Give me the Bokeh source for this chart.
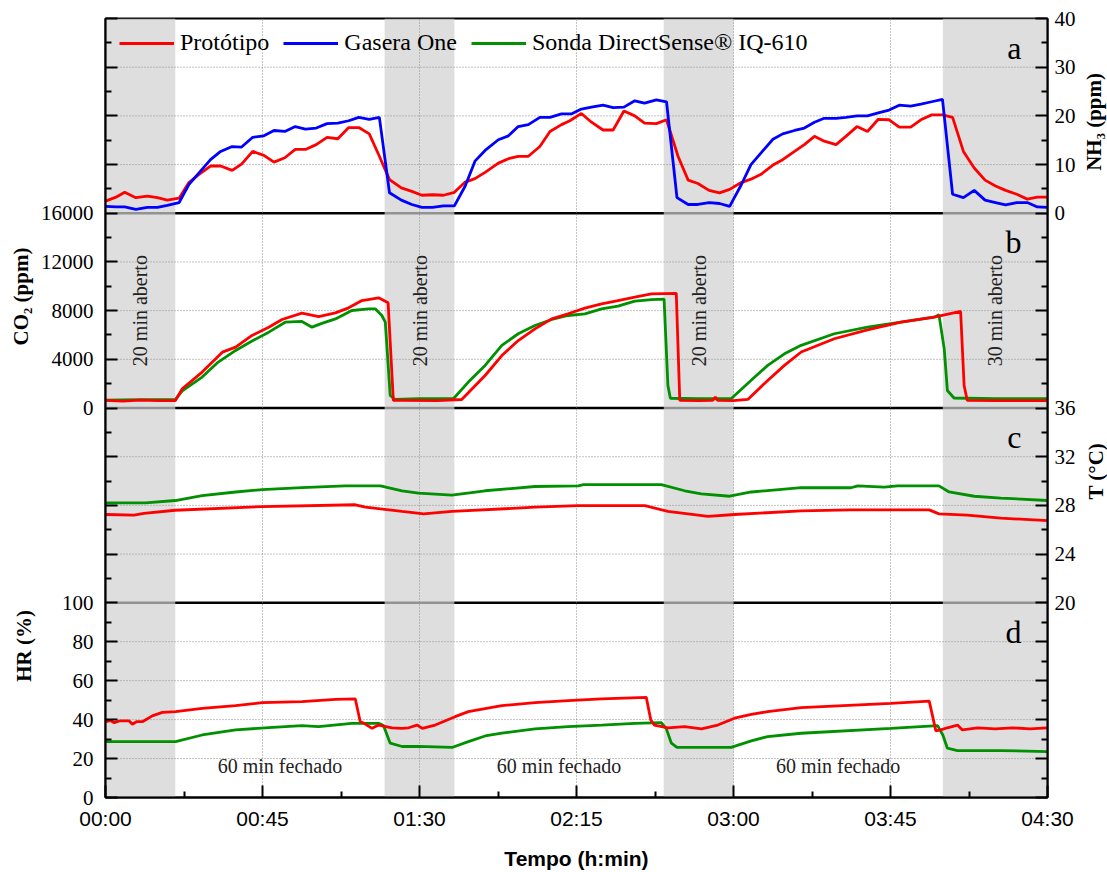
from math import pi
from bokeh.plotting import figure
from bokeh.layouts import row
from bokeh.core.properties import value
from bokeh.models import Range1d, LinearAxis, FixedTicker, Label, Legend, LegendItem
from bokeh.embed import file_html
from bokeh.resources import INLINE

# ---------------- data ----------------
# NH3 (ppm)
nh3_proto_t = [0, 3, 5.5, 8.7, 12, 14.9, 17.7, 21.1, 23.9, 26.8, 30.1, 33, 36.3, 39, 42.2, 45.4, 48.3, 51.4,
               54.4, 57.3, 60.4, 63.5, 66.6, 69.7, 72.6, 75.6, 78.5, 81.4, 84.8, 87.8, 90.7, 93.7, 96.9, 100,
               103.1, 105.9, 108.8, 112.6, 115.5, 118.3, 121.2, 124.5, 127.4, 130.7, 133.1, 136.4, 139.3,
               142.6, 145.5, 148.6, 151.7, 154.5, 157.9, 160.8, 164.1, 167, 169.8, 173, 176, 178.9, 182.2,
               185, 187.9, 191.3, 194.1, 197.5, 200.3, 203.2, 206, 209.4, 212.2, 215.4, 218.4, 221.5, 224.6,
               227.5, 230.8, 233.7, 236.8, 239.9, 242.8, 245.9, 249, 252.1, 255.1, 258, 261.2, 264.2, 267.1, 270]
nh3_proto = [2.5, 3.3, 4.3, 3.2, 3.5, 3.2, 2.7, 3.1, 6.3, 8.0, 9.7, 9.7, 8.8, 10.1, 12.7, 11.9, 10.5, 11.4,
             13.1, 13.1, 14.1, 15.6, 15.3, 17.6, 17.6, 16.3, 11.7, 6.9, 5.2, 4.5, 3.7, 3.8, 3.7, 4.3,
             6.4, 7.1, 8.4, 10.3, 11.2, 11.7, 11.7, 13.7, 16.8, 18.2, 19.0, 20.5, 18.7,
             17.1, 17.1, 21.0, 20.0, 18.5, 18.4, 19.2, 11.7, 6.8, 6.1, 4.7, 4.2, 4.9, 6.3,
             7.0, 8.0, 9.9, 11.0, 12.7, 14.1, 15.8, 14.8, 14.1, 15.8, 17.8, 16.8, 19.3, 19.2,
             17.7, 17.7, 19.2, 20.2, 20.2, 19.7, 12.7, 9.3, 6.8, 5.6, 4.7, 3.9, 2.9, 3.3, 3.3]

nh3_gas_t = [0, 3, 5.5, 8.7, 12, 14.9, 17.7, 21.1, 23.9, 26.8, 30.1, 33, 36.3, 39, 42.2, 45.4, 48.3, 51.4,
             54.4, 57.3, 60.4, 63.5, 66.6, 69.7, 72.6, 75.6, 78.5, 81.4, 84.8, 87.8, 90.7, 93.7, 96.9, 100,
             103.1, 105.9, 108.8, 112.6, 115.5, 118.3, 121.2, 124.5, 127.4, 130.7, 133.5, 136.4, 139.3,
             142.6, 145.5, 148.6, 151.7, 154.5, 157.9, 160.8, 163.8, 167, 169.8, 173, 176, 178.9, 182.2,
             185, 187.9, 191.3, 194.1, 197.5, 200.3, 203.2, 206, 209.4, 212.2, 215.4, 218.4, 221.5, 224.6,
             227.5, 230.8, 233.7, 236.8, 239.9, 242.8, 245.9, 249, 252.1, 255.1, 258, 261.2, 264.2, 267.1, 270]
nh3_gas = [1.4, 1.3, 1.3, 0.8, 1.2, 1.2, 1.6, 2.2, 5.9, 8.3, 11.0, 12.7, 13.7, 13.6, 15.6, 15.9, 17.0, 16.8,
           17.8, 17.3, 17.5, 18.4, 18.5, 19.0, 19.7, 19.3, 19.7, 4.2, 2.7, 1.8, 1.2, 1.2, 1.5, 1.5,
           5.6, 10.7, 12.9, 15.1, 15.9, 17.8, 18.2, 19.7, 19.7, 20.4, 20.4, 21.4, 21.8,
           22.2, 21.7, 21.8, 23.1, 22.6, 23.3, 22.9, 3.2, 1.8, 1.8, 2.2, 2.0, 1.4, 5.8,
           10.0, 12.4, 15.2, 16.3, 17.0, 17.5, 18.7, 19.5, 19.5, 19.7, 20.0, 20.0, 20.6, 21.2,
           22.2, 22.0, 22.4, 22.9, 23.4, 3.9, 3.2, 4.7, 2.7, 2.2, 1.7, 2.2, 2.2, 1.3, 1.2]

# CO2 (ppm)
co2_proto_t = [0, 5, 10, 15, 20, 22, 27.7, 33.5, 37.3, 42, 46.8, 50.6, 56.3, 61.1, 65.9, 69.7, 73.5, 78.3,
               81, 82.5, 85, 95, 102.1, 108.8, 113.6, 118.3, 123.1, 127.9, 132.6, 137.4, 142.2, 146.9,
               151.7, 156.5, 163.6, 164.6, 170, 174, 174.8, 175.5, 180, 184.1, 189.8, 194.6, 199.4, 208.9,
               218.4, 228, 237.5, 245.1, 246.1, 247, 255, 270]
co2_proto = [620, 560, 640, 600, 600, 1580, 2950, 4590, 5000, 5960, 6640, 7270, 7790, 7510, 7820, 8230, 8830, 9050,
             8650, 620, 620, 600, 700, 2670, 4310, 5540, 6500, 7320, 7740, 8200, 8560, 8830,
             9100, 9380, 9420, 620, 600, 620, 900, 620, 600, 700, 2260, 3500, 4600, 5690,
             6420, 7050, 7460, 7930, 1850, 620, 600, 610]

co2_sonda_t = [0, 10, 20, 22, 27.7, 32, 37.3, 42, 46.8, 51.5, 56.3, 59.2, 62, 65.9, 70.6, 75.4, 77.3, 79.2,
               80.2, 81.6, 83, 90, 99.7, 104, 108.8, 113.6, 118.3, 123.1, 127.9, 132.6, 137.4, 142.2, 146.9,
               151.7, 156.5, 160.1, 161.2, 161.9, 170, 179.3, 185, 189.8, 194.6, 199.4, 208.9, 218.4, 228,
               237.5, 238.9, 240.4, 241.3, 243.2, 255, 270]
co2_sonda = [650, 680, 680, 1400, 2540, 3700, 4730, 5500, 6230, 7050, 7110, 6640, 6950, 7320, 8010, 8150, 8150, 7600,
             7050, 1030, 700, 760, 760, 2130, 3500, 5140, 6100, 6780, 7270, 7600, 7740, 8150, 8370,
             8780, 8910, 8950, 1850, 800, 760, 760, 2260, 3500, 4450, 5150, 6100, 6640, 7050,
             7460, 7650, 4860, 1440, 820, 760, 760]

# Temperature (°C)
t_sonda_t = [0, 11.5, 20, 27.7, 37.3, 44.9, 56.3, 68.7, 78.8, 85, 89.7, 99.3, 108.8, 123.1, 135.5, 137, 159.3,
             166, 170.8, 178.9, 185.1, 199.4, 213.7, 215.6, 223.2, 227, 238.9, 241.8, 249, 256.6, 270]
t_sonda = [28.2, 28.2, 28.4, 28.8, 29.1, 29.3, 29.45, 29.6, 29.6, 29.2, 29.0, 28.85, 29.2, 29.55, 29.6, 29.7, 29.7,
           29.2, 28.95, 28.75, 29.1, 29.45, 29.45, 29.6, 29.5, 29.6, 29.6, 29.1, 28.75, 28.6, 28.4]
t_proto_t = [0, 8.2, 11, 20, 44.9, 71.6, 74.5, 85, 91.2, 99.3, 123.1, 135.5, 154.6, 161.2, 172.7, 180.3, 199.4,
             213.7, 236.1, 238.9, 247, 256.6, 270]
t_proto = [27.25, 27.2, 27.35, 27.6, 27.9, 28.05, 27.85, 27.5, 27.3, 27.5, 27.85, 27.98, 27.98, 27.5, 27.1, 27.25,
           27.55, 27.63, 27.63, 27.3, 27.2, 26.95, 26.75]

# Relative humidity (%)
hr_proto_t = [0, 1.5, 2.5, 4, 6.8, 7.7, 9, 10.7, 13.4, 16.3, 20.1, 27.7, 37.3, 44.9, 56.3, 65.9, 71.6, 73, 73.9,
              76.4, 78.3, 82.1, 85, 86.9, 89.3, 90.8, 94.5, 100.2, 104, 113.6, 123.1, 132.6, 142.2, 155, 156.3,
              157.3, 161.2, 166, 170.8, 175.5, 180.3, 185.1, 189.8, 199.4, 225.1, 236.1, 238, 239.4, 241.3,
              244.2, 245.6, 250, 255, 260, 265, 270]
hr_proto = [39.0, 39.5, 38.4, 39.3, 39.3, 37.6, 39.0, 39.0, 41.9, 43.7, 44.1, 45.8, 47.2, 48.7, 49.2, 50.4, 50.6,
            39.0, 38.3, 35.5, 37.2, 35.8, 35.5, 35.8, 37.2, 35.5, 37.2, 41.5, 44.1, 47.2, 48.7, 49.7, 50.6, 51.4,
            39.8, 37.2, 35.8, 36.4, 35.2, 37.2, 40.7, 42.7, 44.1, 46.1, 48.3, 49.5, 34.2, 34.7, 35.8,
            37.2, 34.7, 35.8, 35.2, 35.8, 35.2, 35.8]
hr_sonda_t = [0, 20.1, 27.7, 37.3, 46.8, 56.3, 61.1, 70.6, 78.3, 79.7, 81.6, 85, 89.7, 99.3, 104, 108.8, 113.6,
              123.1, 132.6, 142.2, 151.7, 159.3, 160.7, 162.2, 163.8, 179.3, 185.1, 189.8, 199.4, 225.1, 238.5,
              240, 241.3, 244.2, 256.6, 270]
hr_sonda = [28.7, 28.7, 32.1, 34.7, 35.9, 36.9, 36.4, 38.1, 38.1, 36.9, 27.9, 26.2, 26.2, 25.7, 28.7, 31.6, 33.0,
            35.2, 36.4, 37.2, 38.1, 38.4, 35.5, 27.9, 25.7, 25.7, 29.1, 31.3, 33.0, 35.5, 36.9,
            32.1, 25.3, 24.1, 24.1, 23.6]

# periods (min): door open
open_periods = [(0, 20), (80, 100), (160, 180), (240, 270)]

# ticks
x_ticks = [0, 45, 90, 135, 180, 225, 270]
x_minor = [22.5, 67.5, 112.5, 157.5, 202.5, 247.5]
x_labels = ["00:00", "00:45", "01:30", "02:15", "03:00", "03:45", "04:30"]

nh3_ticks, nh3_minor = [0, 10, 20, 30, 40], [5, 15, 25, 35]
co2_ticks, co2_minor = [0, 4000, 8000, 12000, 16000], [2000, 6000, 10000, 14000]
temp_ticks, temp_minor = [20, 24, 28, 32, 36], [22, 26, 30, 34]
hr_ticks, hr_minor = [0, 20, 40, 60, 80, 100], [10, 30, 50, 70, 90]

RED, BLUE, GREEN = "#ff0000", "#0000ff", "#009000"
SERIF, SANS = "Liberation Serif", "Liberation Sans"

# panels bottom -> top: (range name, lo, hi)
panels = [("hr", 0, 100), ("temp", 20, 36), ("co2", 0, 16000), ("nh3", 0, 40)]
pinfo = {name: (i, lo, hi) for i, (name, lo, hi) in enumerate(panels)}


def to_main(name, v):
    i, lo, hi = pinfo[name]
    return i * 100 + (v - lo) / (hi - lo) * 100


# ---------------- layout geometry (pixels) ----------------
W, H = 1107, 872
FRAME_L, FRAME_R, FRAME_T, FRAME_B = 103, 1047, 18, 800
WL, WR = 37, 28                      # side strips holding the panel titles
WM = W - WL - WR
BL = FRAME_L - WL
BR = WL + WM - FRAME_R
YMAX = 400.0
UNIT = (FRAME_B - FRAME_T) / YMAX     # px per main unit

p = figure(width=WM, height=H, x_range=Range1d(0, 270), y_range=Range1d(0, YMAX),
           output_backend="svg", toolbar_location=None,
           min_border_left=BL, min_border_right=BR, min_border_top=FRAME_T,
           min_border_bottom=H - FRAME_B)
p.xgrid.visible = False
p.ygrid.visible = False
p.outline_line_color = "black"
p.outline_line_width = 2
p.background_fill_color = "white"
p.border_fill_color = "white"

p.extra_y_ranges = {name: Range1d(lo - i * (hi - lo), lo + (4 - i) * (hi - lo))
                    for i, (name, lo, hi) in enumerate(panels)}

# panel separators (under the shading)
bounds = [to_main(name, hi) for name, lo, hi in panels[:-1]]
p.segment(x0=[0] * len(bounds), y0=bounds, x1=[270] * len(bounds), y1=bounds,
          line_color="black", line_width=2.5)

# shading of "open" periods
p.quad(left=[a for a, b in open_periods], right=[b for a, b in open_periods],
       bottom=0, top=YMAX, fill_color="#d0d0d0", fill_alpha=0.7, line_alpha=0)

# dotted grid
gx = x_ticks[1:-1]
p.segment(x0=gx, y0=[0] * len(gx), x1=gx, y1=[YMAX] * len(gx),
          line_color="#8a8a8a", line_width=1, line_dash="1 2")
gy = []
for name, ticks in [("nh3", nh3_ticks), ("co2", co2_ticks), ("temp", temp_ticks), ("hr", hr_ticks)]:
    gy += [to_main(name, v) for v in ticks[1:-1]]
p.segment(x0=[0] * len(gy), y0=gy, x1=[270] * len(gy), y1=gy,
          line_color="#8a8a8a", line_width=1, line_dash="1 2")

LW = 2.8
r_nh3_p = p.line(nh3_proto_t, nh3_proto, y_range_name="nh3", line_color=RED, line_width=LW)
r_nh3_g = p.line(nh3_gas_t, nh3_gas, y_range_name="nh3", line_color=BLUE, line_width=LW)
r_co2_s = p.line(co2_sonda_t, co2_sonda, y_range_name="co2", line_color=GREEN, line_width=LW)
r_co2_p = p.line(co2_proto_t, co2_proto, y_range_name="co2", line_color=RED, line_width=LW)
p.line(t_sonda_t, t_sonda, y_range_name="temp", line_color=GREEN, line_width=LW)
p.line(t_proto_t, t_proto, y_range_name="temp", line_color=RED, line_width=LW)
p.line(hr_sonda_t, hr_sonda, y_range_name="hr", line_color=GREEN, line_width=LW)
p.line(hr_proto_t, hr_proto, y_range_name="hr", line_color=RED, line_width=LW)

# ---------------- axes ----------------
all_major, all_minor = [], []
for name, ticks, minor in [("hr", hr_ticks, hr_minor), ("temp", temp_ticks, temp_minor),
                           ("co2", co2_ticks, co2_minor), ("nh3", nh3_ticks, nh3_minor)]:
    all_major += [to_main(name, v) for v in ticks]
    all_minor += [to_main(name, v) for v in minor]
all_major = sorted(set(int(round(v)) for v in all_major))


def overrides(labelled):
    d = {m: "" for m in all_major}
    for name, ticks in labelled:
        for v in ticks:
            d[int(round(to_main(name, v)))] = str(v)
    return d


def style_axis(ax, standoff):
    ax.axis_line_color = "black"
    ax.axis_line_width = 2
    ax.major_tick_in = 12
    ax.major_tick_out = 0
    ax.minor_tick_in = 6
    ax.minor_tick_out = 0
    ax.major_tick_line_width = 2
    ax.minor_tick_line_width = 2
    ax.major_tick_line_color = "black"
    ax.minor_tick_line_color = "black"
    ax.major_label_standoff = standoff
    ax.major_label_text_color = "black"


left = p.yaxis[0]
left.ticker = FixedTicker(ticks=all_major, minor_ticks=all_minor)
left.major_label_overrides = overrides([("hr", hr_ticks), ("co2", co2_ticks)])
style_axis(left, 12)
left.major_label_text_font = SERIF
left.major_label_text_font_size = "21px"

right = LinearAxis(ticker=FixedTicker(ticks=all_major, minor_ticks=all_minor))
right.major_label_overrides = overrides([("temp", temp_ticks), ("nh3", nh3_ticks)])
style_axis(right, 7)
right.major_label_text_font = SERIF
right.major_label_text_font_size = "21px"
p.add_layout(right, "right")

bottom = p.xaxis[0]
bottom.ticker = FixedTicker(ticks=x_ticks, minor_ticks=x_minor)
bottom.major_label_overrides = {t: s for t, s in zip(x_ticks, x_labels)}
style_axis(bottom, 9)
bottom.major_label_text_font = SANS
bottom.major_label_text_font_size = "21px"
bottom.axis_label = "Tempo (h:min)"
bottom.axis_label_text_font = SANS
bottom.axis_label_text_font_size = "21px"
bottom.axis_label_text_font_style = "bold"
bottom.axis_label_text_color = "black"
bottom.axis_label_standoff = 14

# ---------------- texts inside the plot ----------------
def mid(name):
    i, lo, hi = pinfo[name]
    return i * 100 + 50


for letter, (name, lo, hi) in zip(["d", "c", "b", "a"], panels):
    p.add_layout(Label(x=270, y=pinfo[name][0] * 100 + 100, x_offset=-26, y_offset=-29,
                       text=letter, text_align="right", text_baseline="middle",
                       text_font=SERIF, text_font_size="32px", text_color="black"))

for a, b in open_periods:
    p.add_layout(Label(x=(a + b) / 2, y=mid("co2"), text=f"{b - a} min aberto", angle=pi / 2,
                       text_align="center", text_baseline="middle", text_font=SERIF,
                       text_font_size="20px", text_color="#222222"))

closed = [(open_periods[k][1], open_periods[k + 1][0]) for k in range(len(open_periods) - 1)]
for a, b in closed:
    p.add_layout(Label(x=(a + b) / 2, y=16, text=f"{b - a} min fechado", text_align="center",
                       text_baseline="middle", text_font=SERIF, text_font_size="20px",
                       text_color="#222222"))

legend = Legend(items=[LegendItem(label="Protótipo", renderers=[r_nh3_p]),
                       LegendItem(label="Gasera One", renderers=[r_nh3_g]),
                       LegendItem(label="Sonda DirectSense® IQ-610", renderers=[r_co2_s])],
                orientation="horizontal", location=(14, 741),
                background_fill_alpha=0, border_line_alpha=0, padding=0, margin=0,
                spacing=14, label_standoff=6, glyph_width=55, glyph_height=24, label_height=24,
                label_text_font=SERIF, label_text_font_size="24px", label_text_color="black")
p.add_layout(legend)

# ---------------- side strips with the panel titles ----------------
y_lo = -(H - FRAME_B) / UNIT
y_hi = YMAX + FRAME_T / UNIT


def strip(width):
    s = figure(width=width, height=H, x_range=Range1d(0, width), y_range=Range1d(y_lo, y_hi),
               x_axis_type=None, y_axis_type=None, output_backend="svg", toolbar_location=None,
               min_border=0, min_border_left=0, min_border_right=0, min_border_top=0,
               min_border_bottom=0)
    s.outline_line_color = None
    s.background_fill_color = "white"
    s.border_fill_color = "white"
    return s


left_titles = ["CO₂ (ppm)", "HR (%)"]
left_panels = ["co2", "hr"]
left_x = [20, 23]
right_titles = ["NH₃ (ppm)", "T (°C)"]
right_panels = ["nh3", "temp"]
right_x = [1093 - (WL + WM), 1095 - (WL + WM)]

sl = strip(WL)
sl.text(x=left_x, y=[mid(n) for n in left_panels], text=left_titles, angle=pi / 2,
        text_align="center", text_baseline="middle", text_font=value(SERIF),
        text_font_size="21px", text_font_style="bold", text_color="black")
sr = strip(WR)
sr.text(x=right_x, y=[mid(n) for n in right_panels], text=right_titles, angle=pi / 2,
        text_align="center", text_baseline="middle", text_font=value(SERIF),
        text_font_size="21px", text_font_style="bold", text_color="black")

layout = row(sl, p, sr, spacing=0)
open("out.html", "w").write(file_html(layout, INLINE))
